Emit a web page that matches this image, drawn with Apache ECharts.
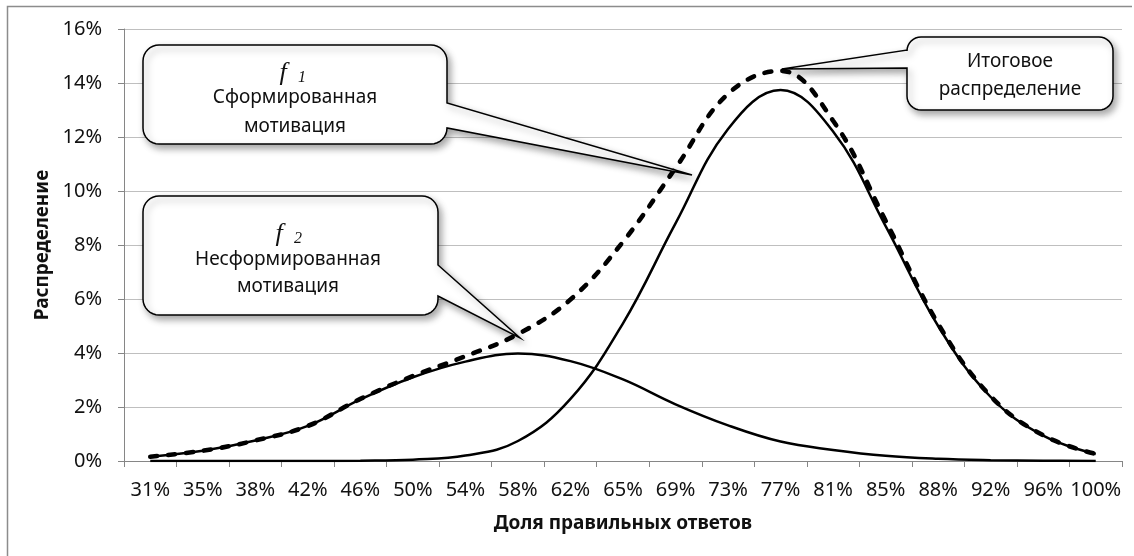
<!DOCTYPE html>
<html>
<head>
<meta charset="utf-8">
<script src="https://cdn.jsdelivr.net/npm/echarts@6/dist/echarts.min.js"></script>
<style>
html,body{margin:0;padding:0;background:#fff;}
#chart{width:1134px;height:556px;}
</style>
</head>
<body>
<div id="chart"></div>
<script>
// ---- data (values in %) ----
var categories = ['31%','35%','38%','42%','46%','50%','54%','58%','62%','65%','69%','73%','77%','81%','85%','88%','92%','96%','100%'];
var formedMotivation   = [0, 0, 0, 0, 0.01, 0.05, 0.2, 0.74, 2.3, 5.1, 8.8, 12.3, 13.74, 12.2, 8.7, 5.0, 2.37, 0.94, 0.26];
var unformedMotivation = [0.16, 0.38, 0.76, 1.3, 2.28, 3.1, 3.68, 3.98, 3.7, 3.02, 2.1, 1.32, 0.72, 0.41, 0.19, 0.08, 0.03, 0.01, 0.0];
var totalDistribution  = [0.16, 0.38, 0.76, 1.3, 2.3, 3.15, 3.88, 4.7, 5.98, 8.12, 10.85, 13.6, 14.45, 12.6, 8.9, 5.08, 2.4, 0.95, 0.26];
var yTicks = {min: 0, max: 16, interval: 2};
var xAxisTitle = 'Доля правильных ответов';
var yAxisTitle = 'Распределение';

var FONT = '"Noto Sans", "DejaVu Sans", sans-serif';
var TXT = '#111';

function arc(pts, cx, cy, r, a0, a1) {
  var n = 8;
  for (var i = 0; i <= n; i++) {
    var a = a0 + (a1 - a0) * i / n;
    pts.push([cx + r * Math.cos(a), cy + r * Math.sin(a)]);
  }
}
function calloutPoints(b, tail) {
  var x0=b.x0,y0=b.y0,x1=b.x1,y1=b.y1,r=b.r,P=Math.PI,pts=[];
  arc(pts, x1-r, y0+r, r, -P/2, 0);
  if (tail.side==='right') { pts.push([x1,tail.ya],[tail.tx,tail.ty],[x1,tail.yb]); }
  arc(pts, x1-r, y1-r, r, 0, P/2);
  arc(pts, x0+r, y1-r, r, P/2, P);
  if (tail.side==='left') { pts.push([x0,tail.yb],[tail.tx,tail.ty],[x0,tail.ya]); }
  arc(pts, x0+r, y0+r, r, P, 1.5*P);
  return pts;
}
var boxStyle = {fill:'#fff', stroke:'#000', lineWidth:1.5, shadowBlur:7, shadowOffsetX:3, shadowOffsetY:4, shadowColor:'rgba(0,0,0,0.35)'};
function callout(b, tail) {
  return {type:'polygon', z:100, shape:{points:calloutPoints(b, tail)}, style:boxStyle};
}
function txt(x,y,s,size,extra){
  var st = {text:s, x:x, y:y, fill:TXT, font:'normal '+size+'px '+FONT, align:'center', verticalAlign:'middle'};
  if (extra) for (var k in extra) st[k]=extra[k];
  return {type:'text', z:101, style:st};
}

var chart = echarts.init(document.getElementById('chart'), null, {renderer:'canvas'});
chart.setOption({
  animation:false,
  backgroundColor:'#fff',
  grid:{left:124, right:12, top:29, bottom:95, containLabel:false},
  xAxis:{
    type:'category', data:categories, boundaryGap:true,
    axisLine:{lineStyle:{color:'#868686', width:1}},
    axisTick:{show:true, length:6, lineStyle:{color:'#868686'}},
    axisLabel:{color:TXT, fontSize:20, fontFamily:FONT, margin:19, interval:0},
    name:xAxisTitle, nameLocation:'middle', nameGap:53,
    nameTextStyle:{color:TXT, fontSize:19, fontWeight:'bold', fontFamily:FONT}
  },
  yAxis:{
    type:'value', min:yTicks.min, max:yTicks.max, interval:yTicks.interval,
    axisLine:{show:true, lineStyle:{color:'#868686', width:1}},
    axisTick:{show:true, length:6, lineStyle:{color:'#868686'}},
    axisLabel:{color:TXT, fontSize:20, fontFamily:FONT, margin:22, formatter:'{value}%'},
    splitLine:{lineStyle:{color:'#bfbfbf', width:1}},
    name:yAxisTitle, nameLocation:'middle', nameGap:70, nameRotate:90,
    nameTextStyle:{color:TXT, fontSize:19, fontWeight:'bold', fontFamily:FONT}
  },
  series:[
    {name:'f1', type:'line', data:formedMotivation, smooth:0.4, symbol:'none', z:3,
     lineStyle:{color:'#000', width:2.5}},
    {name:'f2', type:'line', data:unformedMotivation, smooth:0.4, symbol:'none', z:3,
     lineStyle:{color:'#000', width:2.5}},
    {name:'total', type:'line', data:totalDistribution, smooth:0.4, symbol:'none', z:4,
     lineStyle:{color:'#000', width:4.6, type:[7,11], cap:'round'}}
  ],
  graphic:[
    {type:'polyline', z:100, shape:{points:[[7.5,560],[7.5,6.5],[1132,6.5]]}, style:{stroke:'#8c8c8c', lineWidth:1.5, fill:null}},
    callout({x0:143,y0:45,x1:447,y1:144,r:16},{side:'right',ya:103,yb:128,tx:692,ty:175}),
    callout({x0:143,y0:196,x1:438,y1:315,r:16},{side:'right',ya:265,yb:296,tx:520,ty:338}),
    callout({x0:907,y0:37,x1:1113,y1:110,r:14},{side:'left',ya:50,yb:68,tx:782,ty:69}),
    txt(283,73,'f',26,{font:'italic 26px "Liberation Serif", serif'}),
    txt(302,78,'1',16,{font:'italic 16px "Liberation Serif", serif'}),
    txt(295,98,'Сформированная',19),
    txt(295,127,'мотивация',19),
    txt(279,234,'f',26,{font:'italic 26px "Liberation Serif", serif'}),
    txt(298,239,'2',16,{font:'italic 16px "Liberation Serif", serif'}),
    txt(288,260,'Несформированная',19),
    txt(288,287,'мотивация',19),
    txt(1010,62,'Итоговое',19),
    txt(1010,90,'распределение',19)
  ]
});
</script>
</body>
</html>
